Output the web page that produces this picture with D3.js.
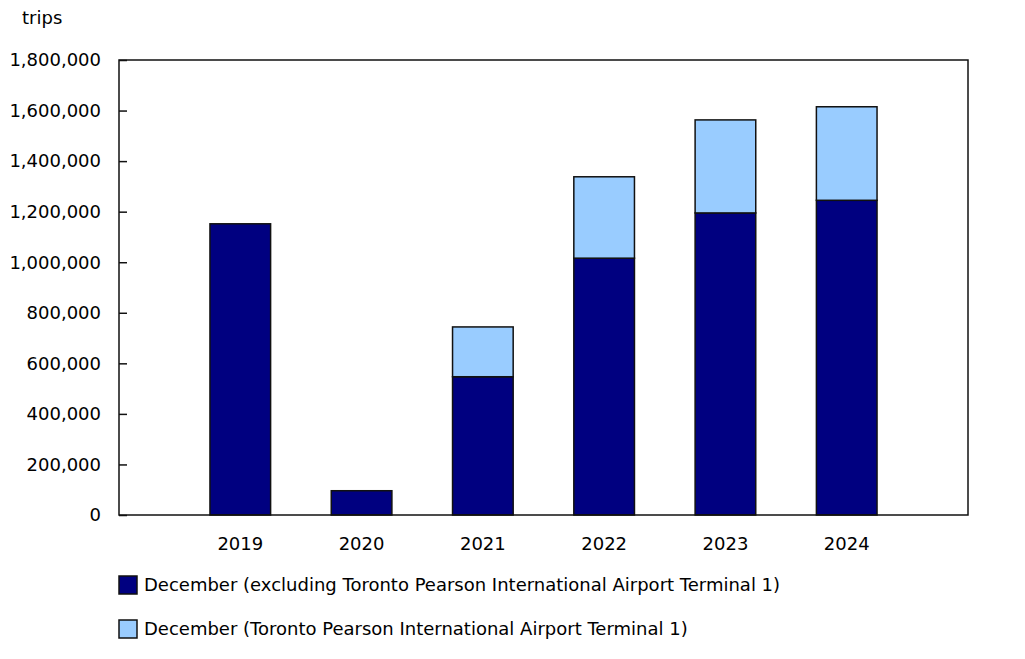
<!DOCTYPE html>
<html>
<head>
<meta charset="utf-8">
<script src="https://cdn.jsdelivr.net/npm/d3@7"></script>
<style>
  body { margin: 0; background: #fff; }
  svg text { font-family: "DejaVu Sans", Verdana, sans-serif; fill: #000; }
</style>
</head>
<body>
<svg id="chart" width="1025" height="659"></svg>
<script>
const years = ['2019', '2020', '2021', '2022', '2023', '2024'];
const excludingT1 = [1152000, 96000, 547000, 1016000, 1195000, 1245000];
const terminal1 = [0, 0, 197000, 322000, 368000, 370000];
const yTicks = [0, 200000, 400000, 600000, 800000, 1000000, 1200000, 1400000, 1600000, 1800000];
const seriesNames = [
  'December (excluding Toronto Pearson International Airport Terminal 1)',
  'December (Toronto Pearson International Airport Terminal 1)',
];
const colors = ['#000080', '#99ccff'];
const fontSize = 18;

const svg = d3.select('#chart');
const margin = { top: 60, right: 57, bottom: 144, left: 119 };
const width = 1025 - margin.left - margin.right;
const height = 659 - margin.top - margin.bottom;

const g = svg.append('g').attr('transform', `translate(${margin.left},${margin.top})`);

// 6 bars, one empty step on each side
const x = d3.scaleBand().domain(years).range([0, width]).paddingInner(0.5).paddingOuter(0.75);
const y = d3.scaleLinear().domain([0, 1800000]).range([height, 0]);

// stacked data
const rows = years.map((yr, i) => ({ year: yr, a: excludingT1[i], b: terminal1[i] }));
const stack = d3.stack().keys(['a', 'b'])(rows);

stack.forEach((layer, li) => {
  g.selectAll(`.bar-${li}`)
    .data(layer.filter((d) => d[1] > d[0]))
    .enter()
    .append('rect')
    .attr('x', (d) => x(d.data.year))
    .attr('y', (d) => y(d[1]))
    .attr('width', x.bandwidth())
    .attr('height', (d) => y(d[0]) - y(d[1]))
    .attr('fill', colors[li])
    .attr('stroke', '#111')
    .attr('stroke-width', 1.5);
});

// frame
g.append('rect')
  .attr('width', width)
  .attr('height', height)
  .attr('fill', 'none')
  .attr('stroke', '#111')
  .attr('stroke-width', 1.5);

// y axis: ticks point inward
const yAxis = g.append('g')
  .call(d3.axisRight(y).tickValues(yTicks).tickSize(8).tickFormat(''));
yAxis.select('.domain').remove();
yAxis.selectAll('line').attr('stroke', '#111').attr('stroke-width', 1.5);

g.selectAll('.ylab')
  .data(yTicks)
  .enter()
  .append('text')
  .attr('x', -18)
  .attr('y', (d) => y(d))
  .attr('dy', '0.35em')
  .attr('text-anchor', 'end')
  .attr('font-size', fontSize)
  .text((d) => d3.format(',')(d));

// x labels
const xAxis = g.append('g')
  .attr('transform', `translate(0,${height})`)
  .call(d3.axisBottom(x).tickSize(0).tickPadding(22));
xAxis.select('.domain').remove();
xAxis.selectAll('text')
  .attr('font-size', fontSize)
  .style('font-family', '"DejaVu Sans", Verdana, sans-serif');

// unit label
svg.append('text').attr('x', 22).attr('y', 24).attr('font-size', fontSize).text('trips');

// legend
const legend = svg.append('g').attr('transform', `translate(${margin.left},576)`);
seriesNames.forEach((name, i) => {
  const row = legend.append('g').attr('transform', `translate(0,${i * 44})`);
  row.append('rect')
    .attr('width', 18)
    .attr('height', 18)
    .attr('fill', colors[i])
    .attr('stroke', '#111')
    .attr('stroke-width', 1.5);
  row.append('text')
    .attr('x', 25)
    .attr('y', 9)
    .attr('dy', '0.35em')
    .attr('font-size', fontSize)
    .text(name);
});
</script>
</body>
</html>
